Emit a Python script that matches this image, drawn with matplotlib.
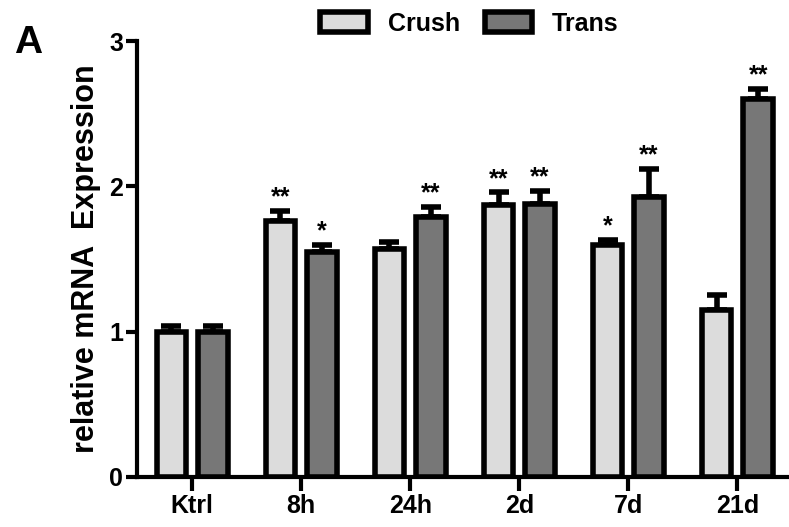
import numpy as np
import matplotlib
matplotlib.use("Agg")
import matplotlib.pyplot as plt
from matplotlib.patches import Patch

plt.rcParams['font.family'] = ['Liberation Sans', 'DejaVu Sans']
plt.rcParams['font.weight'] = 'bold'
plt.rcParams['axes.labelweight'] = 'bold'

# data
groups = ["Ktrl", "8h", "24h", "2d", "7d", "21d"]
crush = [1.00, 1.76, 1.57, 1.87, 1.60, 1.15]
crush_err = [0.04, 0.07, 0.05, 0.09, 0.03, 0.10]
trans = [1.00, 1.55, 1.79, 1.88, 1.93, 2.60]
trans_err = [0.04, 0.05, 0.07, 0.09, 0.19, 0.07]
crush_stars = ["", "**", "", "**", "*", ""]
trans_stars = ["", "*", "**", "**", "**", "**"]

crush_color = "#dcdcdc"
trans_color = "#777777"

fig = plt.figure(figsize=(7.89, 5.27), dpi=100)
ax = fig.add_axes([0.1736, 0.0949, 0.826, 0.827])

x = np.arange(len(groups))
width = 0.27
off = 0.19

def draw(xpos, vals, errs, color, stars):
    ax.errorbar(xpos, vals, yerr=[np.zeros(len(vals)), errs], fmt='none',
                ecolor='black', elinewidth=4, capsize=7, capthick=4, zorder=2)
    ax.bar(xpos, vals, width, color=color, edgecolor='black', linewidth=4, zorder=3)
    for xi, v, e, s in zip(xpos, vals, errs, stars):
        if s:
            ax.annotate(s, (xi, v + e), xytext=(0, 1), textcoords='offset points',
                        ha='center', va='bottom', fontsize=18, fontweight='bold')

draw(x - off, crush, crush_err, crush_color, crush_stars)
draw(x + off, trans, trans_err, trans_color, trans_stars)

ax.set_xlim(-0.505, 5.47)
ax.set_ylim(0, 3)
ax.set_yticks([0, 1, 2, 3])
ax.set_xticks(x)
ax.set_xticklabels(groups)
ax.tick_params(axis='both', labelsize=18, width=3, length=8, pad=2)
ax.tick_params(axis='x', length=10)
for side in ['top', 'right']:
    ax.spines[side].set_visible(False)
for side in ['left', 'bottom']:
    ax.spines[side].set_linewidth(3)
ax.set_ylabel("relative mRNA  Expression", fontsize=22, fontweight='bold', labelpad=6)

handles = [Patch(facecolor=crush_color, edgecolor='black', linewidth=4, label="Crush"),
           Patch(facecolor=trans_color, edgecolor='black', linewidth=4, label="Trans")]
fig.legend(handles=handles, loc='center', bbox_to_anchor=(0.595, 0.955), ncol=2,
           frameon=False, prop={'size': 18, 'weight': 'bold'}, handlelength=1.9,
           handleheight=0.9, columnspacing=1.0, handletextpad=0.8)

fig.text(0.018, 0.9, "A", fontsize=28, fontweight='bold')

fig.savefig("out.png", dpi=100)
